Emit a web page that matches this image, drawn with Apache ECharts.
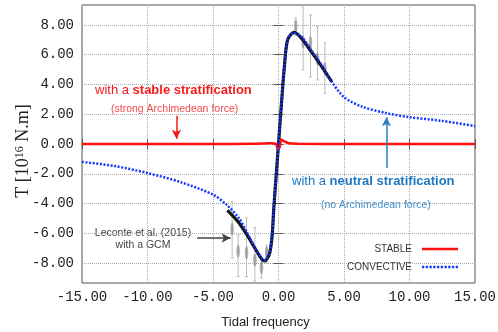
<!DOCTYPE html>
<html>
<head>
<meta charset="utf-8">
<script src="https://cdn.jsdelivr.net/npm/echarts@6/dist/echarts.min.js"></script>
<style>
  html, body { margin: 0; padding: 0; background: #fff; }
  #chart { width: 498px; height: 332px; }
</style>
</head>
<body>
<div id="chart"></div>
<script>
  // ticks
  var xTicks = [-15, -10, -5, 0, 5, 10, 15];
  var yTicks = [-8, -6, -4, -2, 0, 2, 4, 6, 8];

  // convective (neutral stratification) curve
  var convX = [-15, -12.5, -10, -7.5, -5, -4, -3, -2.4, -1.8, -1.3, -1.05, -0.7, -0.5, -0.35, -0.15, 0,
               0.25, 0.45, 0.7, 1.2, 1.75, 2.5, 3.3, 4.05, 5, 6.4, 8.2, 10, 12.5, 15];
  var convY = [-1.2, -1.48, -1.95, -2.55, -3.4, -4.05, -5.0, -5.95, -6.95, -7.65, -7.8, -7.3, -6.2, -4.2, -1.8, 0,
               3.0, 5.2, 7.0, 7.45, 7.2, 6.3, 5.3, 4.2, 3.15, 2.5, 2.08, 1.8, 1.55, 1.2];

  // stable stratification curve
  var stabX = [-15, -5, -2, -1, -0.5, -0.2, -0.05, 0.1, 0.2, 0.4, 0.8, 1.5, 5, 15];
  var stabY = [0, 0, 0.02, 0.04, 0.05, 0, -0.3, -0.2, 0.3, 0.2, 0.05, 0.02, 0, 0];

  // GCM fit (Leconte et al. 2015)
  var gcmFitX = [-3.9, -3.1, -2.4, -1.8, -1.3, -1.05, -0.7, -0.5, -0.35, -0.15, 0,
                 0.25, 0.45, 0.7, 1.2, 1.75, 2.5, 3.3, 4.05];
  var gcmFitY = [-4.45, -5.2, -6.1, -7.0, -7.7, -7.85, -7.4, -6.3, -4.2, -1.8, 0,
                 3.0, 5.2, 7.0, 7.5, 7.1, 6.2, 5.2, 4.2];

  // GCM points with error bars
  var gcmX  = [-3.54, -3.08, -2.44, -1.8, -1.3, -0.9, 1.32, 1.88, 2.44, 2.98, 3.54];
  var gcmY  = [-5.7, -7.2, -7.3, -7.8, -8.3, -7.3, 7.9, 6.85, 6.8, 5.7, 5.05];
  var gcmLo = [-7.66, -8.9, -8.9, -9.2, -9.0, -8.0, 7.3, 4.97, 4.5, 4.3, 3.4];
  var gcmHi = [-3.87, -6.1, -4.97, -5.6, -7.8, -6.8, 8.45, 9.25, 8.66, 7.87, 6.8];

  function zip(a, b) { return a.map(function (v, i) { return [v, b[i]]; }); }

  var sans = 'Liberation Sans, Arial, sans-serif';
  var mono = 'Liberation Mono, Courier New, monospace';

  // legend icons: a solid bar and a row of small dots
  var solidIcon = 'path://M0,0h36v2.5h-36z';
  var dotIcon = 'path://';
  for (var d = 0; d < 36; d += 3.6) { dotIcon += 'M' + d + ',0h2.2v2.5h-2.2z'; }

  var myChart = echarts.init(document.getElementById('chart'));

  var tickLabel = {
    fontFamily: mono, fontSize: 14, color: '#222',
    formatter: function (v) { return Number(v).toFixed(2); }
  };

  myChart.setOption({
    animation: false,
    grid: { left: 82, right: 23, top: 5, bottom: 49, show: true, borderColor: '#555', borderWidth: 1, outerBoundsMode: 'none' },
    legend: {
      right: 40, top: 244, padding: 0, orient: 'vertical', align: 'right',
      itemWidth: 36, itemHeight: 14, itemGap: 8, symbolKeepAspect: true,
      textStyle: { fontFamily: sans, fontSize: 10, color: '#333', padding: [0, 5, 0, 0] },
      data: [{ name: 'STABLE', icon: solidIcon }, { name: 'CONVECTIVE', icon: dotIcon }]
    },
    xAxis: [{
      type: 'value', min: -15, max: 15, interval: 5,
      name: 'Tidal frequency', nameLocation: 'middle', nameGap: 33,
      nameTextStyle: { fontFamily: sans, fontSize: 13, color: '#222', padding: [0, 26, 0, 0] },
      axisLine: { show: false },
      axisTick: { inside: true, length: 5, lineStyle: { color: '#555' } },
      axisLabel: Object.assign({ margin: 7 }, tickLabel),
      splitLine: { lineStyle: { color: '#aaa', type: 'dotted', width: 1 } }
    }, {
      type: 'value', min: -15, max: 15, interval: 5, position: 'top',
      axisLine: { show: false }, axisLabel: { show: false }, splitLine: { show: false },
      axisTick: { inside: true, length: 5, lineStyle: { color: '#555' } }
    }],
    yAxis: [{
      type: 'value', min: -9.33, max: 9.33,
      name: '{a|T [10}{s|16}{a| N.m]}', nameLocation: 'middle', nameGap: 50, nameMoveOverlap: false,
      nameTextStyle: {
        padding: [0, 14, 0, 0],
        rich: {
          a: { fontFamily: 'Liberation Serif, Times New Roman, serif', fontSize: 18, color: '#222' },
          s: { fontFamily: 'Liberation Serif, Times New Roman, serif', fontSize: 12, color: '#222', verticalAlign: 'top' }
        }
      },
      axisLine: { show: false },
      axisTick: { inside: true, length: 5, customValues: yTicks, lineStyle: { color: '#555' } },
      axisLabel: Object.assign({ margin: 8, customValues: yTicks }, tickLabel),
      splitLine: { lineStyle: { color: '#aaa', type: 'dotted', width: 1 } }
    }, {
      type: 'value', min: -9.33, max: 9.33, position: 'right',
      axisLine: { show: false }, axisLabel: { show: false }, splitLine: { show: false },
      axisTick: { inside: true, length: 5, customValues: yTicks, lineStyle: { color: '#555' } }
    }],
    series: [{
      name: 'GCM points',
      type: 'custom',
      z: 1,
      data: gcmX.map(function (x, i) { return [x, gcmY[i], gcmLo[i], gcmHi[i]]; }),
      renderItem: function (params, api) {
        var p = api.coord([api.value(0), api.value(1)]);
        var lo = api.coord([api.value(0), api.value(2)]);
        var hi = api.coord([api.value(0), api.value(3)]);
        return {
          type: 'group',
          children: [{
            type: 'line', shape: { x1: hi[0], y1: hi[1], x2: lo[0], y2: lo[1] },
            style: { stroke: '#bdbdbd', lineWidth: 1 }
          }, {
            type: 'line', shape: { x1: hi[0] - 1.5, y1: hi[1], x2: hi[0] + 1.5, y2: hi[1] },
            style: { stroke: '#bdbdbd', lineWidth: 1 }
          }, {
            type: 'line', shape: { x1: lo[0] - 1.5, y1: lo[1], x2: lo[0] + 1.5, y2: lo[1] },
            style: { stroke: '#bdbdbd', lineWidth: 1 }
          }, {
            type: 'ellipse', shape: { cx: p[0], cy: p[1], rx: 1.8, ry: 6.5 },
            style: { fill: 'rgba(120,120,120,0.55)' }
          }]
        };
      }
    }, {
      name: 'GCM fit',
      type: 'line', z: 2,
      data: zip(gcmFitX, gcmFitY),
      smooth: 0.3, symbol: 'none',
      lineStyle: { color: '#111', width: 3.2 },
      markLine: {
        silent: true, symbol: ['none', 'arrow'], symbolSize: [7, 9],
        label: { show: false },
        lineStyle: { color: '#444', width: 1.5, type: 'solid' },
        data: [[{ coord: [-6.2, -6.31] }, { coord: [-3.66, -6.31] }]]
      }
    }, {
      name: 'STABLE',
      type: 'line', z: 3,
      data: zip(stabX, stabY),
      smooth: 0.3, symbol: 'none',
      lineStyle: { color: '#ff1010', width: 2.5 },
      itemStyle: { color: '#ff1010' },
      markLine: {
        silent: true, symbol: ['none', 'arrow'], symbolSize: [7, 9],
        label: { show: false },
        lineStyle: { color: '#ee1c1c', width: 1.5, type: 'solid' },
        data: [[{ coord: [-7.79, 1.9] }, { coord: [-7.79, 0.36] }]]
      }
    }, {
      name: 'CONVECTIVE',
      type: 'line', z: 4,
      data: zip(convX, convY),
      smooth: 0.3, symbol: 'none',
      lineStyle: { color: '#1538ff', width: 2.5, type: [2, 1.6] },
      itemStyle: { color: '#1538ff' },
      markLine: {
        silent: true, symbol: ['none', 'arrow'], symbolSize: [7, 9],
        label: { show: false },
        lineStyle: { color: '#2a7fc4', width: 1.5, type: 'solid' },
        data: [[{ coord: [8.24, -1.61] }, { coord: [8.24, 1.8] }]]
      }
    }],
    graphic: [{
      type: 'text', left: 95, top: 84,
      style: {
        text: '{n|with a }{b|stable stratification}',
        rich: {
          n: { fontFamily: sans, fontSize: 13, fill: '#f41c1c' },
          b: { fontFamily: sans, fontSize: 13, fontWeight: 'bold', fill: '#f41c1c' }
        }
      }
    }, {
      type: 'text', left: 111, top: 104,
      style: { text: '(strong Archimedean force)', fontFamily: sans, fontSize: 10.5, fill: '#f24a4a' }
    }, {
      type: 'text', left: 292, top: 175,
      style: {
        text: '{n|with a }{b|neutral stratification}',
        rich: {
          n: { fontFamily: sans, fontSize: 13, fill: '#1f78c1' },
          b: { fontFamily: sans, fontSize: 13, fontWeight: 'bold', fill: '#1f78c1' }
        }
      }
    }, {
      type: 'text', left: 321, top: 200,
      style: { text: '(no Archimedean force)', fontFamily: sans, fontSize: 10.5, fill: '#3b8fd2' }
    }, {
      type: 'text', x: 143, y: 228,
      style: { text: 'Leconte et al. (2015)', align: 'center', fontFamily: sans, fontSize: 10.5, fill: '#444' }
    }, {
      type: 'text', x: 143, y: 240,
      style: { text: 'with a GCM', align: 'center', fontFamily: sans, fontSize: 10.5, fill: '#444' }
    }]
  });
</script>
</body>
</html>
